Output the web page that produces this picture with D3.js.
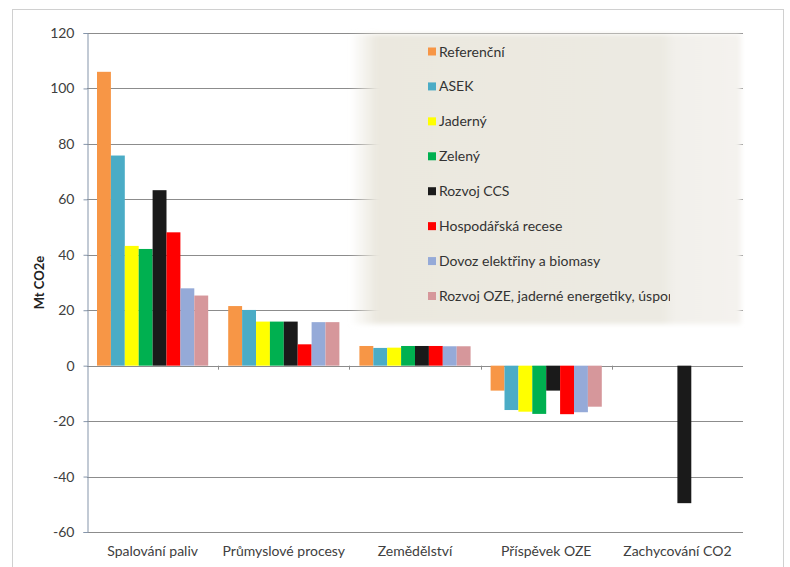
<!DOCTYPE html>
<html>
<head>
  <script src="https://d3js.org/d3.v7.min.js"></script>
  <style>
    body {
  margin: 0;
  background-color: #ffffff;
  font-family: 'Lato', sans-serif;
}

svg {
  display: block;
}

.grid line {
  stroke: #8c8c8c;
  stroke-width: 1px;
}

.axis text {
  fill: #404040;
  font-size: 14px;
}

.legend text {
  fill: #333333;
  font-size: 14px;
}
  </style>
</head>
<body>

<script>
// Categories along the x axis.
const categories = ["Spalování paliv", "Průmyslové procesy", "Zemědělství", "Příspěvek OZE", "Zachycování CO2"];

// Scenario names (legend order).
const series = [
  "Referenční",
  "ASEK",
  "Jaderný",
  "Zelený",
  "Rozvoj CCS",
  "Hospodářská recese",
  "Dovoz elektřiny a biomasy",
  "Rozvoj OZE, jaderné energetiky, úspor"
];

// Values per scenario, one per category (Mt CO2e).
const referencni = [106, 21.5, 7.1, -9, 0];
const asek = [75.8, 20.1, 6.4, -16, 0];
const jaderny = [43.2, 15.9, 6.5, -16.6, 0];
const zeleny = [42.1, 15.9, 7.1, -17.4, 0];
const rozvojCCS = [63.3, 15.9, 7.1, -9, -49.6];
const recese = [48.1, 7.7, 7.1, -17.5, 0];
const dovoz = [27.9, 15.7, 7.0, -16.8, 0];
const rozvojOZE = [25.3, 15.7, 7.0, -14.8, 0];

const yTicks = [120, 100, 80, 60, 40, 20, 0, -20, -40, -60];

const colors = ["#f79646", "#4bacc6", "#ffff00", "#00b050", "#1a1a1a", "#ff0000", "#95aad8", "#d6979b"];

const seriesValues = [referencni, asek, jaderny, zeleny, rozvojCCS, recese, dovoz, rozvojOZE];

const width = 790;
const height = 567;
const margin = { top: 33, right: 47, bottom: 35, left: 87 };

const svg = d3.select("body")
  .append("svg")
  .attr("width", width)
  .attr("height", height);

// Light outer frame
svg.append("rect")
  .attr("x", 12.5)
  .attr("y", 9.5)
  .attr("width", 771)
  .attr("height", 570)
  .attr("fill", "none")
  .attr("stroke", "#d0d0d0");

const x0 = d3.scaleBand()
  .domain(categories)
  .range([margin.left, width - margin.right]);

const x1 = d3.scaleBand()
  .domain(series)
  .range([0, x0.bandwidth()])
  .paddingOuter(0.72);

const y = d3.scaleLinear()
  .domain([-60, 120])
  .range([height - margin.bottom, margin.top]);

// Gridlines
svg.append("g")
  .attr("class", "grid")
  .selectAll("line")
  .data(yTicks)
  .join("line")
  .attr("x1", margin.left)
  .attr("x2", width - margin.right)
  .attr("y1", d => Math.round(y(d)) + 0.5)
  .attr("y2", d => Math.round(y(d)) + 0.5);

// Legend background, covers the gridlines behind it
const defs = svg.append("defs");
const lg = defs.append("linearGradient").attr("id", "legendFill");
lg.append("stop").attr("offset", "0%").attr("stop-color", "#ebe8df").attr("stop-opacity", 0);
lg.append("stop").attr("offset", "7%").attr("stop-color", "#ebe8df").attr("stop-opacity", 1);
lg.append("stop").attr("offset", "80%").attr("stop-color", "#ecEAe2").attr("stop-opacity", 1);
lg.append("stop").attr("offset", "83%").attr("stop-color", "#f2f0eb").attr("stop-opacity", 1);
lg.append("stop").attr("offset", "100%").attr("stop-color", "#f4f2ee").attr("stop-opacity", 1);

defs.append("filter").attr("id", "soft")
  .append("feGaussianBlur").attr("stdDeviation", 2.5);

svg.append("rect")
  .attr("x", 350)
  .attr("y", y(120) + 1)
  .attr("width", 391)
  .attr("height", 290)
  .attr("fill", "url(#legendFill)")
  .attr("filter", "url(#soft)");

// Y axis
const yAxis = svg.append("g")
  .attr("class", "axis")
  .attr("transform", `translate(${margin.left + 0.5},0)`)
  .call(d3.axisLeft(y).tickValues(yTicks).tickFormat(d => String(d)).tickSize(4).tickPadding(9));
yAxis.select(".domain").attr("stroke", "#8595aa");
yAxis.selectAll(".tick line").attr("stroke", "#8595aa");
yAxis.selectAll("text").attr("font-family", "Lato, sans-serif").attr("font-size", 14);

// Y title
svg.append("text")
  .attr("transform", `translate(44,${(y(120) + y(-60)) / 2}) rotate(-90)`)
  .attr("text-anchor", "middle")
  .attr("font-size", 13)
  .attr("font-weight", "bold")
  .attr("fill", "#222")
  .text("Mt CO2e");

// Bars
const groups = svg.append("g")
  .selectAll("g")
  .data(categories)
  .join("g")
  .attr("transform", d => `translate(${x0(d)},0)`);

groups.selectAll("rect")
  .data((c, ci) => series.map((s, si) => ({ s, si, v: seriesValues[si][ci] })))
  .join("rect")
  .attr("x", d => x1(d.s))
  .attr("width", x1.bandwidth())
  .attr("y", d => y(Math.max(0, d.v)))
  .attr("height", d => Math.abs(y(d.v) - y(0)))
  .attr("fill", d => colors[d.si]);

// Category boundary ticks on the zero line
svg.append("g")
  .selectAll("line")
  .data(categories.slice(1))
  .join("line")
  .attr("x1", d => Math.round(x0(d)) + 0.5)
  .attr("x2", d => Math.round(x0(d)) + 0.5)
  .attr("y1", y(0))
  .attr("y2", y(0) + 4)
  .attr("stroke", "#8c8c8c");

// Category labels at the bottom
svg.append("g")
  .attr("class", "axis")
  .selectAll("text")
  .data(categories)
  .join("text")
  .attr("x", d => x0(d) + x0.bandwidth() / 2)
  .attr("y", height - 11)
  .attr("text-anchor", "middle")
  .text(d => d);

// Legend
defs.append("clipPath").attr("id", "legendClip")
  .append("rect").attr("x", 350).attr("y", 30).attr("width", 320).attr("height", 300);

const legend = svg.append("g")
  .attr("class", "legend")
  .attr("clip-path", "url(#legendClip)");

const ly = d3.scalePoint()
  .domain(series)
  .range([51.5, 296]);

const items = legend.selectAll("g")
  .data(series)
  .join("g")
  .attr("transform", d => `translate(428,${ly(d)})`);

items.append("rect")
  .attr("x", 0)
  .attr("y", -4)
  .attr("width", 8)
  .attr("height", 8)
  .attr("fill", (d, i) => colors[i]);

items.append("text")
  .attr("x", 11)
  .attr("y", 5)
  .text(d => d);
</script>
</body>
</html>
